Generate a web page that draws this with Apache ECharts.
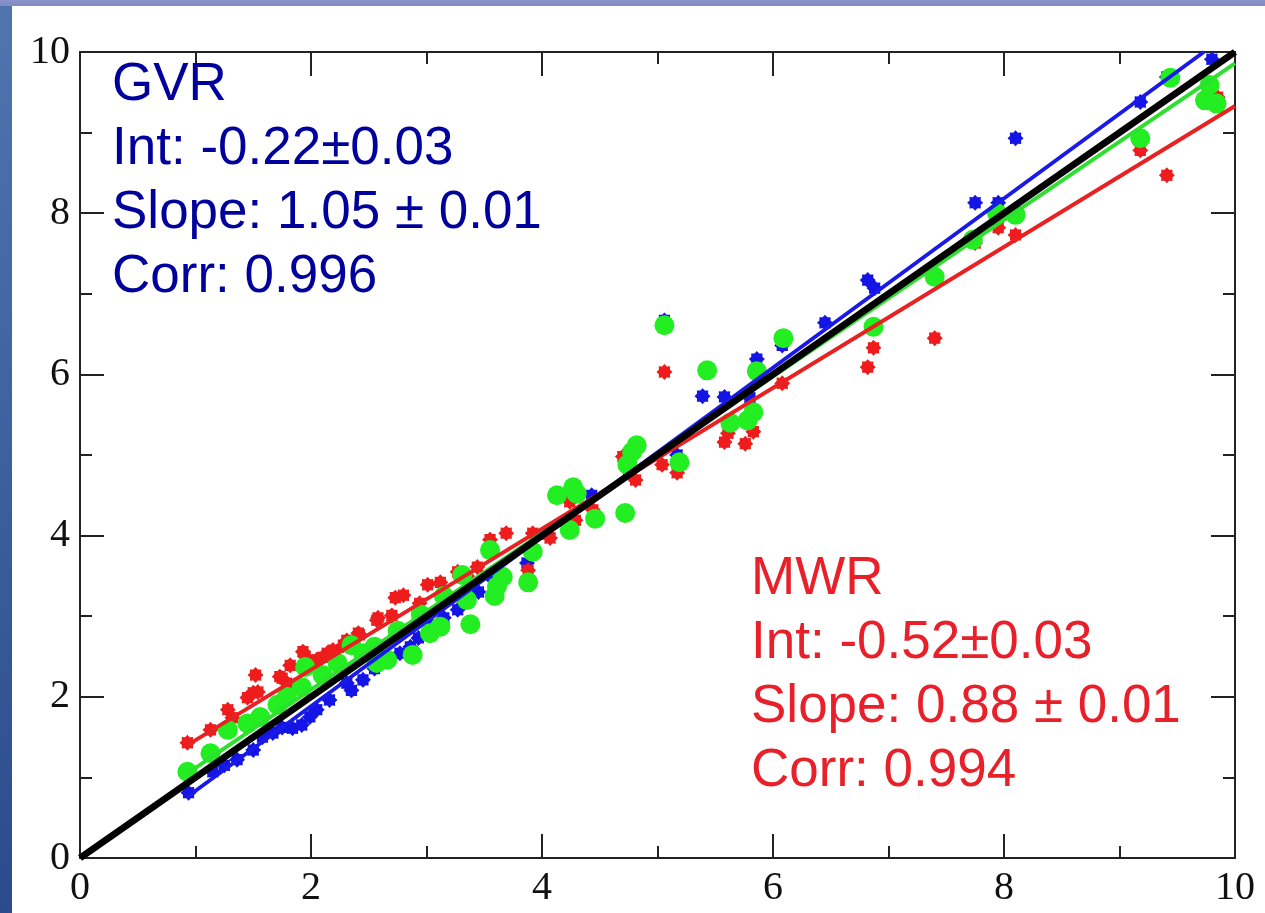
<!DOCTYPE html>
<html>
<head>
<meta charset="utf-8">
<title>GVR / MWR comparison</title>
<script src="https://cdn.jsdelivr.net/npm/echarts@6/dist/echarts.min.js"></script>
<style>
  html, body {
    margin: 0;
    padding: 0;
    width: 1265px;
    height: 913px;
    overflow: hidden;
    background: linear-gradient(to bottom, #8a93c9 0, #7f8bc2 6px, #4f74ae 6px, #3a5f9c 55%, #2c4a8c 100%);
  }
  #chart {
    position: absolute;
    left: 12px;
    top: 6px;
    width: 1253px;
    height: 907px;
  }
</style>
</head>
<body>
<div id="chart"></div>
<script>
// axis ticks
var axisMin = 0
var axisMax = 10
var tickStep = 2

// GVR points (blue)
var gvrPoints = [
  [0.94, 0.81], [1.15, 1.07], [1.25, 1.15], [1.36, 1.22], [1.50, 1.34], [1.58, 1.50],
  [1.67, 1.55], [1.75, 1.62], [1.84, 1.61], [1.92, 1.65], [1.99, 1.75], [2.05, 1.84],
  [2.16, 1.96], [2.31, 2.17], [2.35, 2.08], [2.45, 2.21], [2.55, 2.35], [2.65, 2.45],
  [2.77, 2.54], [2.86, 2.62], [2.93, 2.73], [3.05, 2.88], [3.15, 2.98], [3.27, 3.08],
  [3.35, 3.18], [3.45, 3.30], [3.58, 3.45], [3.87, 3.66], [4.05, 4.02], [4.43, 4.50],
  [4.75, 4.80], [5.17, 5.00], [5.06, 6.67], [5.39, 5.73], [5.58, 5.72], [5.80, 5.71],
  [5.86, 6.19], [6.08, 6.36], [6.45, 6.64], [6.82, 7.17], [6.88, 7.07], [7.75, 8.13],
  [7.95, 8.13], [8.10, 8.93], [9.18, 9.38], [9.41, 9.69], [9.80, 9.91]
]

// MWR points (red)
var mwrPoints = [
  [0.93, 1.43], [1.13, 1.59], [1.28, 1.84], [1.32, 1.74], [1.45, 1.99], [1.50, 2.05],
  [1.52, 2.27], [1.54, 2.06], [1.73, 2.25], [1.75, 2.23], [1.79, 2.17], [1.82, 2.39],
  [1.93, 2.56], [1.95, 2.50], [2.05, 2.46], [2.10, 2.49], [2.14, 2.54], [2.19, 2.58],
  [2.28, 2.64], [2.31, 2.70], [2.41, 2.79], [2.42, 2.77], [2.57, 2.95], [2.58, 2.98],
  [2.70, 3.01], [2.73, 3.23], [2.80, 3.26], [2.94, 3.16], [3.01, 3.39], [3.12, 3.42],
  [3.27, 3.55], [3.35, 3.50], [3.44, 3.61], [3.55, 3.95], [3.69, 4.03], [3.88, 3.57],
  [3.92, 4.03], [4.07, 3.97], [4.24, 4.42], [4.29, 4.19], [4.44, 4.32], [4.70, 4.98],
  [4.81, 4.69], [5.04, 4.88], [5.06, 6.03], [5.17, 4.78], [5.58, 5.16], [5.61, 5.27],
  [5.76, 5.14], [5.83, 5.29], [6.08, 5.89], [6.82, 6.09], [6.87, 6.33], [7.40, 6.45],
  [7.75, 7.63], [7.95, 7.82], [8.10, 7.73], [9.18, 8.78], [9.41, 8.47], [9.85, 9.44]
]

// third set (green)
var greenPoints = [
  [0.93, 1.07], [1.13, 1.30], [1.28, 1.59], [1.45, 1.67], [1.56, 1.75], [1.71, 1.90],
  [1.79, 2.00], [1.92, 2.12], [1.95, 2.37], [2.10, 2.27], [2.23, 2.42], [2.35, 2.64],
  [2.45, 2.54], [2.55, 2.62], [2.57, 2.42], [2.66, 2.46], [2.75, 2.82], [2.88, 2.52],
  [2.95, 3.02], [3.03, 2.79], [3.12, 2.87], [3.15, 3.25], [3.31, 3.51], [3.35, 3.20],
  [3.38, 2.90], [3.55, 3.82], [3.59, 3.25], [3.61, 3.37], [3.66, 3.49], [3.88, 3.42],
  [3.92, 3.80], [4.13, 4.50], [4.24, 4.07], [4.27, 4.60], [4.30, 4.52], [4.46, 4.21],
  [4.72, 4.28], [4.74, 4.88], [4.78, 5.04], [4.82, 5.12], [5.06, 6.61], [5.19, 4.91],
  [5.43, 6.05], [5.63, 5.40], [5.78, 5.43], [5.83, 5.53], [5.86, 6.04], [6.09, 6.45],
  [6.87, 6.59], [7.40, 7.21], [7.73, 7.67], [7.94, 8.00], [8.10, 7.98], [9.18, 8.93],
  [9.44, 9.68], [9.74, 9.40], [9.78, 9.59], [9.84, 9.36]
]

// fit lines (end points)
var gvrFit = [[0.93, 0.76], [9.73, 10.0]]
var greenFit = [[0.93, 1.05], [10.0, 9.86]]
var mwrFit = [[0.93, 1.40], [10.0, 9.33]]
var oneToOne = [[0, 0], [10, 10]]

// annotation text
var gvrText = ['GVR', 'Int: -0.22\u00b10.03', 'Slope: 1.05 \u00b1 0.01', 'Corr: 0.996']
var mwrText = ['MWR', 'Int: -0.52\u00b10.03', 'Slope: 0.88 \u00b1 0.01', 'Corr: 0.994']

// little starburst marker
function starPath(n, inner) {
  var d = ''
  for (var i = 0; i < n * 2; i++) {
    var a = Math.PI * i / n
    var r = i % 2 === 0 ? 10 : 10 * inner
    var x = (10 + r * Math.sin(a)).toFixed(2)
    var y = (10 - r * Math.cos(a)).toFixed(2)
    d += (i === 0 ? 'M' : 'L') + x + ',' + y
  }
  return 'path://' + d + 'Z'
}
var star = starPath(8, 0.75)

var chart = echarts.init(document.getElementById('chart'))

var tickFont = {
  fontFamily: 'Liberation Serif',
  fontSize: 40,
  color: '#111'
}

function makeAxis(pos, showLabel) {
  return {
    type: 'value',
    position: pos,
    min: axisMin,
    max: axisMax,
    interval: tickStep,
    splitLine: { show: false },
    axisLine: { show: true, onZero: false, lineStyle: { color: '#222', width: 2 } },
    axisTick: { show: true, inside: true, length: 24, lineStyle: { color: '#222', width: 2 } },
    minorTick: { show: true, splitNumber: 2, length: 12, lineStyle: { color: '#222', width: 2 } },
    axisLabel: Object.assign({ show: showLabel, margin: 10 }, tickFont)
  }
}

function textBlock(lines, left, top, color) {
  return lines.map(function (t, i) {
    return {
      type: 'text',
      left: left,
      top: top + i * 64,
      z: 100,
      style: {
        text: t,
        fill: color,
        font: '53px "Liberation Sans", Arial, sans-serif'
      }
    }
  })
}

function scatter(name, data, color, symbol, size) {
  return {
    name: name,
    type: 'scatter',
    data: data,
    symbol: symbol,
    symbolSize: size,
    itemStyle: { color: color, opacity: 1 },
    xAxisIndex: 0,
    yAxisIndex: 0,
    silent: true
  }
}

function fitLine(name, data, color, width, z) {
  return {
    name: name,
    type: 'line',
    data: data,
    showSymbol: false,
    symbol: 'none',
    lineStyle: { color: color, width: width },
    z: z,
    xAxisIndex: 0,
    yAxisIndex: 0,
    silent: true
  }
}

chart.setOption({
  backgroundColor: '#ffffff',
  animation: false,
  grid: {
    left: 68,
    top: 46,
    right: 30,
    bottom: 55,
    outerBoundsMode: 'none'
  },
  xAxis: [makeAxis('bottom', true), makeAxis('top', false)],
  yAxis: [makeAxis('left', true), makeAxis('right', false)],
  graphic: textBlock(gvrText, 100, 53, '#00009c').concat(textBlock(mwrText, 739, 547, '#e8202a')),
  series: [
    scatter('GVR', gvrPoints, '#1414e6', star, 16),
    scatter('MWR', mwrPoints, '#ee1c1c', star, 16),
    scatter('other', greenPoints, '#22ee22', 'circle', 20),
    fitLine('GVR fit', gvrFit, '#1a1ae8', 4, 5),
    fitLine('green fit', greenFit, '#2fdf2f', 4, 5),
    fitLine('MWR fit', mwrFit, '#e82222', 4, 5),
    fitLine('1:1', oneToOne, '#000000', 7, 6)
  ]
})
</script>
</body>
</html>
